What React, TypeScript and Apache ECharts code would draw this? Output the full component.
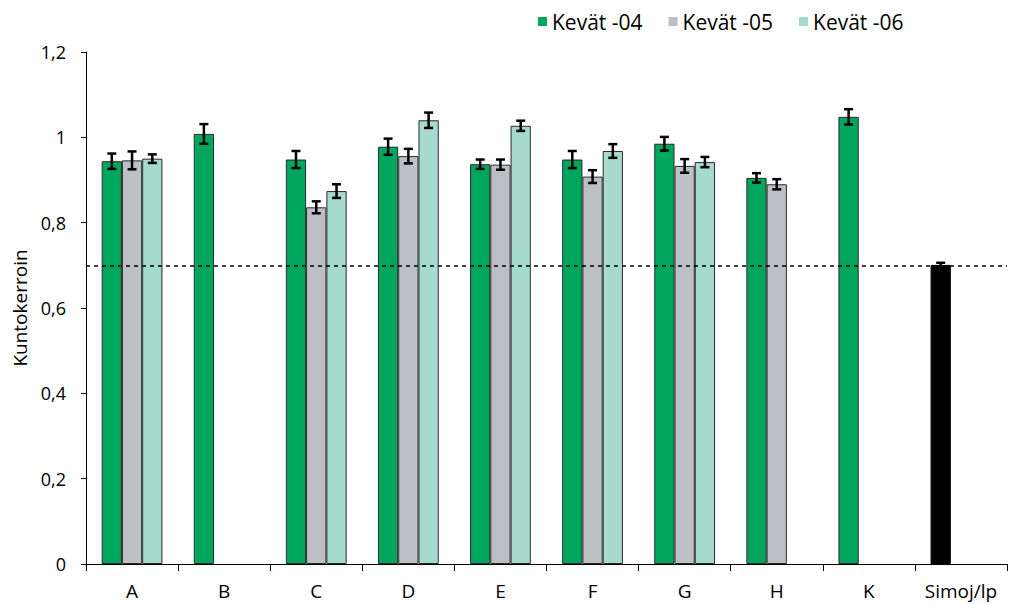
import React, { useEffect, useRef } from "react";
import * as echarts from "echarts";

const categories = ["A", "B", "C", "D", "E", "F", "G", "H", "K", "Simoj/lp"];
const seriesNames = ["Kevät -04", "Kevät -05", "Kevät -06"];
const kevat04 = [0.944, 1.008, 0.948, 0.978, 0.937, 0.948, 0.985, 0.905, 1.048, 0.701];
const kevat05 = [0.946, null, 0.836, 0.956, 0.936, 0.908, 0.933, 0.89, null, null];
const kevat06 = [0.95, null, 0.874, 1.04, 1.027, 0.968, 0.942, null, null, null];
const err04 = [0.018, 0.023, 0.02, 0.019, 0.011, 0.02, 0.016, 0.011, 0.018, 0.005];
const err05 = [0.021, null, 0.014, 0.017, 0.012, 0.015, 0.016, 0.012, null, null];
const err06 = [0.01, null, 0.016, 0.018, 0.012, 0.016, 0.012, null, null, null];
const referenceLevel = 0.7;
const yTicks = [0, 0.2, 0.4, 0.6, 0.8, 1, 1.2];

const colors = ["#00A65E", "#BCC0C4", "#A6DACC"];
const blackIndex = 9;
const FONT = "Open Sans";
const BAR_FRAC = 0.22;

export default function App() {
  const ref = useRef<HTMLDivElement>(null);
  useEffect(() => {
    if (!ref.current) return;
    const chart = echarts.init(ref.current, null, { renderer: "svg" });
    const values = [kevat04, kevat05, kevat06];
    const errs = [err04, err05, err06];
    const errData: any[] = [];
    values.forEach((arr, si) => {
      arr.forEach((v, ci) => {
        const e = errs[si][ci];
        if (v != null && e != null) errData.push([ci, v, e, si]);
      });
    });
    const barSeries = values.map((arr, si) => ({
      name: seriesNames[si],
      type: "bar",
      barWidth: BAR_FRAC * 100 + "%",
      barGap: "0%",
      itemStyle: { color: colors[si], borderColor: "#2a2a2a", borderWidth: 1 },
      data: arr.map((v, ci) =>
        si === 0 && ci === blackIndex
          ? { value: v, itemStyle: { color: "#000000", borderColor: "#000" } }
          : v
      ),
      markLine:
        si === 0
          ? {
              silent: true,
              symbol: "none",
              label: { show: false },
              lineStyle: { color: "#000", type: [4, 4], width: 1.5 },
              data: [{ yAxis: referenceLevel }],
            }
          : undefined,
    }));
    chart.setOption({
      animation: false,
      textStyle: { fontFamily: FONT },
      legend: {
        data: seriesNames,
        left: 533,
        top: 6,
        icon: "rect",
        itemWidth: 9,
        itemHeight: 9,
        itemGap: 26,
        itemStyle: { borderWidth: 0 },
        textStyle: { fontSize: 21, color: "#000", fontFamily: FONT },
      },
      grid: { left: 86, right: 6, top: 52, bottom: 40, containLabel: false },
      xAxis: {
        type: "category",
        data: categories,
        axisLine: { lineStyle: { color: "#000", width: 1 } },
        axisTick: { show: true, interval: 0, length: 7, lineStyle: { color: "#000" } },
        axisLabel: { interval: 0, fontSize: 19, color: "#000", margin: 17, fontFamily: FONT },
      },
      yAxis: {
        type: "value",
        min: 0,
        max: 1.2,
        interval: 0.2,
        name: "Kuntokerroin",
        nameLocation: "middle",
        nameRotate: 90,
        nameGap: 57,
        nameTextStyle: { fontSize: 19, color: "#000", fontFamily: FONT },
        axisLine: { show: true, lineStyle: { color: "#000", width: 1 } },
        axisTick: { show: true, length: 5, lineStyle: { color: "#000" } },
        splitLine: { show: false },
        axisLabel: {
          fontSize: 18,
          color: "#000",
          margin: 20,
          fontFamily: FONT,
          formatter: (v: number) => {
            const t = yTicks.find((x) => Math.abs(x - v) < 1e-6);
            return String(Math.round((t ?? v) * 10) / 10).replace(".", ",");
          },
        },
      },
      series: [
        ...barSeries,
        {
          type: "custom",
          name: "err",
          z: 10,
          silent: true,
          data: errData,
          encode: { x: 0, y: 1 },
          renderItem: (params: any, api: any) => {
            const ci = api.value(0);
            const v = api.value(1);
            const e = api.value(2);
            const si = api.value(3);
            const catW = api.size([1, 0])[0];
            const off = (si - 1) * catW * BAR_FRAC;
            const top = api.coord([ci, v + e]);
            const bot = api.coord([ci, v - e]);
            const x = top[0] + off;
            const cap = 4.5;
            const style = { stroke: "#000", lineWidth: 2.5 };
            return {
              type: "group",
              children: [
                { type: "line", shape: { x1: x, y1: top[1], x2: x, y2: bot[1] }, style },
                { type: "line", shape: { x1: x - cap, y1: top[1], x2: x + cap, y2: top[1] }, style },
                { type: "line", shape: { x1: x - cap, y1: bot[1], x2: x + cap, y2: bot[1] }, style },
              ],
            };
          },
        },
      ],
    });
    return () => chart.dispose();
  }, []);
  return (
    <div
      ref={ref}
      style={{ position: "fixed", left: 0, top: 0, width: 1013, height: 604, background: "#fff" }}
    />
  );
}
